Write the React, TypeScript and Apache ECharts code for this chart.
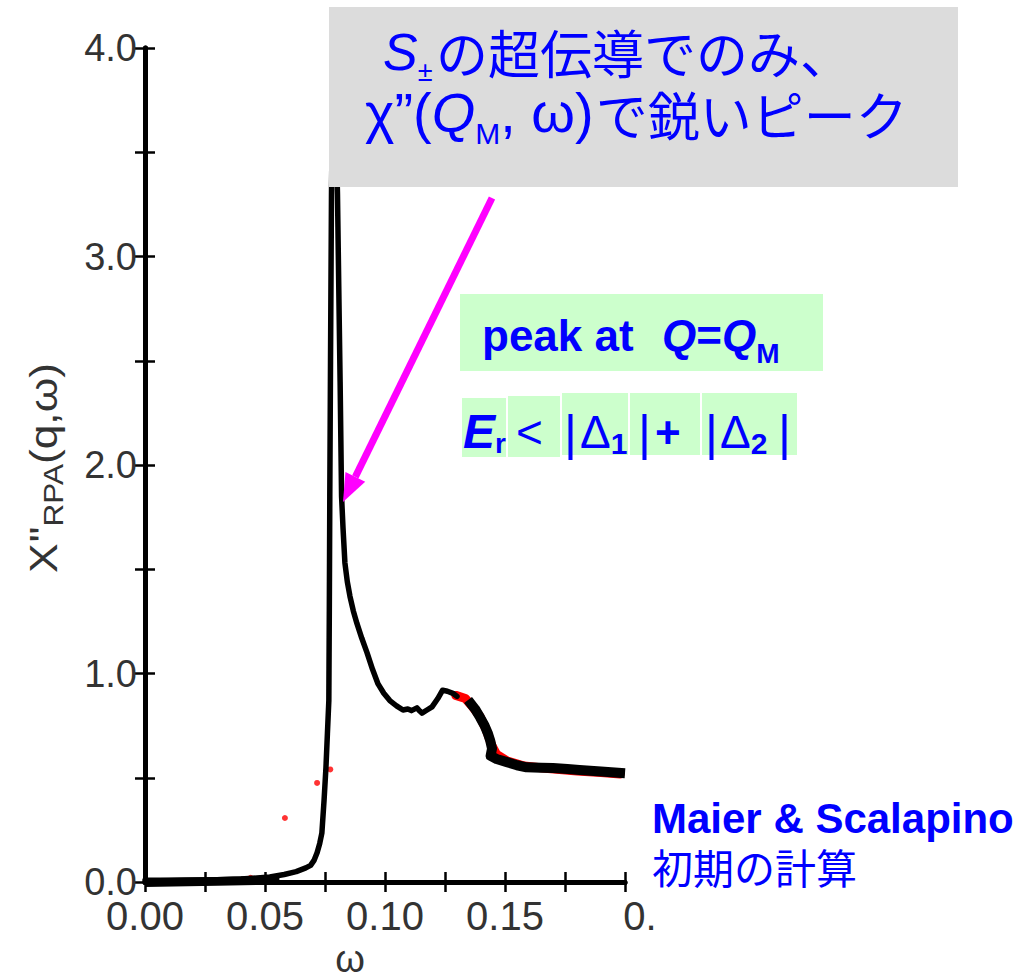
import React, { useEffect, useRef } from 'react';
import * as echarts from 'echarts';

// ---- data -------------------------------------------------------------
// x tick values and their printed labels
const xTickValues = [0, 0.05, 0.1, 0.15, 0.2];
const xTickLabels = ['0.00', '0.05', '0.10', '0.15', '0.'];
const yTickValues = [0, 1, 2, 3, 4];
const yTickLabels = ['0.0', '1.0', '2.0', '3.0', '4.0'];

// main RPA spectrum (thin black line)
const omegaMain = [
  0, 0.01, 0.02, 0.03, 0.04, 0.048, 0.052, 0.058, 0.063, 0.067,
  0.069, 0.0705, 0.0717, 0.0728, 0.0737, 0.0746, 0.0754, 0.076, 0.0766, 0.0768,
  0.077, 0.0773, 0.0777, 0.0782, 0.0789, 0.0796, 0.0802, 0.0808, 0.0813, 0.0819,
  0.0825, 0.0833, 0.0843, 0.0854, 0.0868, 0.0883, 0.0903, 0.0925, 0.0948, 0.0971,
  0.0995, 0.102, 0.1048, 0.1075, 0.1095, 0.111, 0.1133, 0.1145, 0.1154, 0.1175,
  0.1196, 0.122, 0.124, 0.126, 0.1283, 0.13,
];
const chiMain = [
  0.008, 0.008, 0.009, 0.011, 0.014, 0.02, 0.024, 0.036, 0.05, 0.068,
  0.08, 0.105, 0.14, 0.185, 0.235, 0.39, 0.55, 0.71, 0.87, 1.3,
  1.85, 2.5, 3.3, 3.85, 3.95, 3.6, 3.3, 2.8, 2.4, 1.85,
  1.7, 1.53, 1.44, 1.37, 1.3, 1.24, 1.17, 1.1, 1.02, 0.95,
  0.905, 0.87, 0.845, 0.825, 0.83, 0.822, 0.835, 0.82, 0.81, 0.825,
  0.84, 0.88, 0.92, 0.915, 0.905, 0.89,
];

// high-energy tail (thick black line)
const omegaTail = [
  0.1346, 0.1375, 0.1396, 0.1415, 0.1428, 0.1438, 0.1446, 0.144, 0.1465, 0.1508,
  0.155, 0.159, 0.165, 0.17, 0.176, 0.181, 0.19, 0.2,
];
const chiTail = [
  0.873, 0.83, 0.79, 0.75, 0.715, 0.68, 0.64, 0.605, 0.59, 0.575,
  0.56, 0.55, 0.548, 0.547, 0.542, 0.537, 0.53, 0.522,
];

// low-energy baseline (thick black line)
const omegaBase = [0, 0.03, 0.056];
const chiBase = [-0.003, 0.003, 0.01];

// second calculation (red), mostly underneath the black curves
const omegaRed = [0.1295, 0.1335, 0.1365, 0.1395, 0.142, 0.1445, 0.1465, 0.151, 0.158, 0.168, 0.18, 0.19, 0.198];
const chiRed = [0.895, 0.88, 0.84, 0.795, 0.735, 0.655, 0.612, 0.58, 0.556, 0.544, 0.532, 0.525, 0.518];
const omegaRedDots = [0.044, 0.0583, 0.0717, 0.0772];
const chiRedDots = [0.02, 0.307, 0.475, 0.54];

// ---- helpers ----------------------------------------------------------
const SANS = "'Liberation Sans', Arial, 'Noto Sans CJK JP', sans-serif";
const CJK = "'Noto Sans CJK JP', 'Liberation Sans', sans-serif";
const BLUE = '#0000ff';
const AXIS_TEXT = '#333333';

const zip = (xs: number[], ys: number[]) => xs.map((x, i) => [x, ys[i]]);

let measureCtx: CanvasRenderingContext2D | null = null;
function textWidth(text: string, font: string): number {
  if (!measureCtx) measureCtx = document.createElement('canvas').getContext('2d');
  measureCtx!.font = font;
  return measureCtx!.measureText(text).width;
}

type Seg = {
  text: string;
  size: number;
  bold?: boolean;
  italic?: boolean;
  dy?: number;
  at?: number;
  gap?: number;
  family?: string;
};

// lays out a row of differently styled pieces on a common baseline
function textRun(segs: Seg[], x0: number, baseline: number, fill: string, family: string, z = 20) {
  const els: any[] = [];
  let x = x0;
  for (const s of segs) {
    if (s.at !== undefined) x = s.at;
    x += s.gap ?? 0;
    const fam = s.family ?? family;
    const fontWeight = s.bold ? 'bold' : 'normal';
    const fontStyle = s.italic ? 'italic' : 'normal';
    const font = `${fontStyle} ${fontWeight} ${s.size}px ${fam}`;
    els.push({
      type: 'text',
      x,
      y: baseline + (s.dy ?? 0) - 0.33 * s.size,
      z,
      silent: true,
      style: {
        text: s.text,
        fill,
        fontSize: s.size,
        fontFamily: fam,
        fontWeight,
        fontStyle,
        lineHeight: Math.round(s.size * 0.9),
        align: 'left',
        verticalAlign: 'middle',
        textAlign: 'left',
        textVerticalAlign: 'middle',
      },
    });
    x += textWidth(s.text, font);
  }
  return { els, end: x };
}

function tickLabel(values: number[], labels: string[], lastRich = false) {
  return (v: number) => {
    const i = values.findIndex((t) => Math.abs(t - v) < 1e-9);
    if (i < 0) return '';
    if (lastRich && i === values.length - 1) return `{r|${labels[i]}}`;
    return labels[i];
  };
}

export default function App() {
  const ref = useRef<HTMLDivElement>(null);

  useEffect(() => {
    if (!ref.current) return;
    const chart = echarts.init(ref.current, undefined, { renderer: 'svg' });

    const axisLine = { show: true, lineStyle: { color: '#000', width: 5 } };
    const axisTick = { show: true, inside: true, length: 10, lineStyle: { color: '#000', width: 2.5 } };
    const labelFont = { fontFamily: SANS, fontSize: 38, color: AXIS_TEXT };
    const xLabelFont = { ...labelFont, fontSize: 40 };

    // y-axis title, rotated to read upwards
    const yTitle = textRun(
      [
        { text: 'X', size: 38 },
        { text: '"', size: 38, gap: 1 },
        { text: 'RPA', size: 27, dy: 5 },
        { text: '(q,ω)', size: 38 },
      ],
      0,
      0,
      AXIS_TEXT,
      SANS,
    );
    const yTitleScale = 210 / yTitle.end;

    // headline in the grey box
    const head1 = textRun(
      [
        { text: 'S', size: 52, italic: true },
        { text: '±', size: 27, dy: 12 },
        { text: 'の超伝導でのみ、', size: 52, at: 436, family: CJK },
      ],
      383,
      69,
      BLUE,
      SANS,
    );
    const head2 = textRun(
      [
        { text: 'χ”(', size: 56 },
        { text: 'Q', size: 56, italic: true },
        { text: 'M', size: 30, dy: 12 },
        { text: ', ω)', size: 56 },
        { text: 'で鋭いピーク', size: 52, family: CJK, gap: 2 },
      ],
      365,
      131,
      BLUE,
      SANS,
    );

    const peak = textRun(
      [
        { text: 'peak at ', size: 44, bold: true },
        { text: 'Q', size: 44, bold: true, italic: true, at: 662 },
        { text: '=', size: 44, bold: true },
        { text: 'Q', size: 44, bold: true, italic: true },
        { text: 'M', size: 28, bold: true, dy: 13 },
      ],
      482,
      350,
      BLUE,
      SANS,
    );

    const gap = textRun(
      [
        { text: 'E', size: 48, bold: true, italic: true, at: 463 },
        { text: 'r', size: 28, bold: true, dy: 6 },
        { text: '<', size: 46, at: 516 },
        { text: '|', size: 50, at: 564, dy: 2 },
        { text: 'Δ', size: 46, at: 580 },
        { text: '1', size: 30, bold: true, dy: 6 },
        { text: '|', size: 50, at: 638, dy: 2 },
        { text: '+', size: 44, bold: true, at: 655 },
        { text: '|', size: 50, at: 705, dy: 2 },
        { text: 'Δ', size: 46, at: 720 },
        { text: '2', size: 30, bold: true, dy: 6 },
        { text: '|', size: 50, at: 778, dy: 2 },
      ],
      463,
      447,
      BLUE,
      SANS,
    );

    const credit = textRun([{ text: 'Maier & Scalapino', size: 42, bold: true }], 652, 832, BLUE, SANS);
    const credit2 = textRun([{ text: '初期の計算', size: 41 }], 652, 880, BLUE, CJK);

    // arrow geometry
    const tip = [343, 502];
    const tail = [492, 198];
    const dx = tip[0] - tail[0];
    const dy = tip[1] - tail[1];
    const len = Math.hypot(dx, dy);
    const ux = dx / len;
    const uy = dy / len;
    const headLen = 28;
    const headHalf = 11;
    const bx = tip[0] - ux * headLen;
    const by = tip[1] - uy * headLen;

    const greenPatches = [
      [460, 294, 363, 77],
      [462, 398, 44, 59],
      [508, 396, 52, 61],
      [562, 393, 66, 62],
      [630, 393, 70, 62],
      [702, 393, 95, 62],
    ];

    chart.setOption({
      animation: false,
      backgroundColor: '#ffffff',
      grid: {
        left: 145,
        right: 411,
        top: 48,
        bottom: 97,
        containLabel: false,
        outerBoundsMode: 'none',
      },
      xAxis: [
        {
          type: 'value',
          position: 'bottom',
          min: 0,
          max: 0.2,
          interval: 0.025,
          axisLine,
          axisTick,
          splitLine: { show: false },
          axisLabel: {
            ...xLabelFont,
            margin: 14,
            formatter: tickLabel(xTickValues, xTickLabels, true),
            rich: { r: { ...xLabelFont, padding: [0, 0, 0, 30] } },
          },
        },
        {
          type: 'value',
          position: 'top',
          min: 0,
          max: 0.2,
          interval: 0.025,
          axisLine,
          axisTick,
          splitLine: { show: false },
          axisLabel: { show: false },
        },
      ],
      yAxis: [
        {
          type: 'value',
          position: 'left',
          min: 0,
          max: 4,
          interval: 0.5,
          axisLine,
          axisTick,
          splitLine: { show: false },
          axisLabel: { ...labelFont, margin: 8, formatter: tickLabel(yTickValues, yTickLabels) },
        },
        {
          type: 'value',
          position: 'right',
          min: 0,
          max: 4,
          interval: 0.5,
          axisLine,
          axisTick,
          splitLine: { show: false },
          axisLabel: { show: false },
        },
      ],
      series: [
        {
          type: 'line',
          data: zip(omegaRed, chiRed),
          showSymbol: false,
          silent: true,
          lineStyle: { color: '#ff0000', width: 9, join: 'round', cap: 'round' },
          z: 1,
        },
        {
          type: 'scatter',
          data: zip(omegaRedDots, chiRedDots),
          symbolSize: 6,
          silent: true,
          itemStyle: { color: '#ff0000' },
          z: 1,
        },
        {
          type: 'line',
          data: zip(omegaMain, chiMain),
          showSymbol: false,
          silent: true,
          lineStyle: { color: '#000', width: 5.5, join: 'round', cap: 'round' },
          z: 2,
        },
        {
          type: 'line',
          data: zip(omegaTail, chiTail),
          showSymbol: false,
          silent: true,
          lineStyle: { color: '#000', width: 10, join: 'round', cap: 'butt' },
          z: 3,
        },
        {
          type: 'line',
          data: zip(omegaBase, chiBase),
          showSymbol: false,
          silent: true,
          clip: false,
          lineStyle: { color: '#000', width: 9, cap: 'butt' },
          z: 3,
        },
      ],
      graphic: [
        // x-axis title
        {
          type: 'text',
          x: 350,
          y: 959,
          silent: true,
          style: {
            text: 'ω',
            fill: AXIS_TEXT,
            fontSize: 38,
            fontFamily: SANS,
            lineHeight: 34,
            align: 'center',
            verticalAlign: 'middle',
            textAlign: 'center',
            textVerticalAlign: 'middle',
          },
        },
        {
          type: 'group',
          x: 57,
          y: 573,
          rotation: Math.PI / 2,
          scaleX: yTitleScale,
          children: yTitle.els,
        },
        {
          type: 'rect',
          z: 10,
          silent: true,
          shape: { x: 329, y: 7, width: 629, height: 180 },
          style: { fill: '#dcdcdc' },
        },
        ...head1.els,
        ...head2.els,
        ...greenPatches.map(([x, y, w, h]) => ({
          type: 'rect',
          z: 10,
          silent: true,
          shape: { x, y, width: w, height: h },
          style: { fill: '#ccffcc' },
        })),
        ...peak.els,
        ...gap.els,
        {
          type: 'line',
          z: 12,
          silent: true,
          shape: { x1: tail[0], y1: tail[1], x2: bx, y2: by },
          style: { stroke: '#ff00ff', lineWidth: 7 },
        },
        {
          type: 'polygon',
          z: 12,
          silent: true,
          shape: {
            points: [
              [tip[0], tip[1]],
              [bx - uy * headHalf, by + ux * headHalf],
              [bx + uy * headHalf, by - ux * headHalf],
            ],
          },
          style: { fill: '#ff00ff' },
        },
        ...credit.els,
        ...credit2.els,
      ],
    });

    return () => chart.dispose();
  }, []);

  return (
    <div
      ref={ref}
      style={{ position: 'fixed', left: 0, top: 0, width: 1036, height: 979, background: '#fff' }}
    />
  );
}
